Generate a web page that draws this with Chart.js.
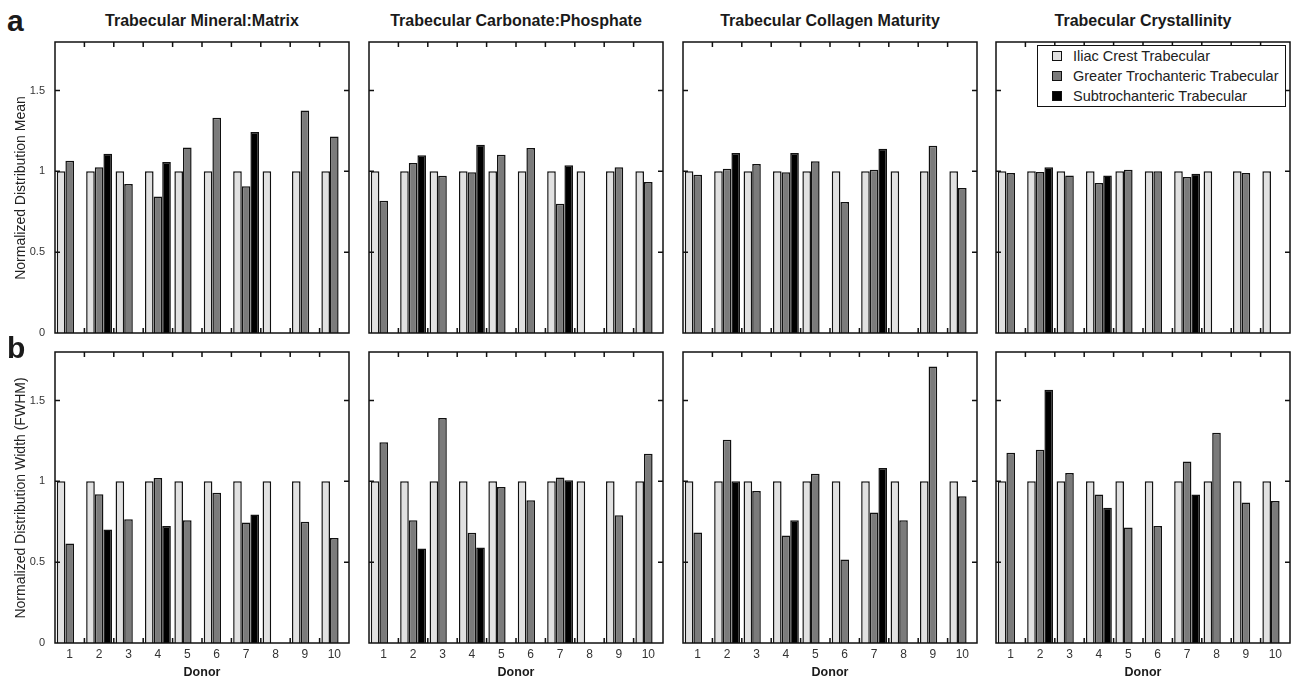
<!DOCTYPE html>
<html>
<head>
<meta charset="utf-8">
<script src="https://cdn.jsdelivr.net/npm/chart.js@4.4.0/dist/chart.umd.min.js"></script>
<style>
    html, body { margin: 0; padding: 0; background: #fff; }
    body {
        width: 1292px; height: 680px; position: relative; overflow: hidden;
        font-family: 'Liberation Sans', Arial, Helvetica, sans-serif; color: #1a1a1a;
    }
    canvas { position: absolute; }
    .title { position: absolute; text-align: center; font-weight: bold; font-size: 16px; line-height: 18px; }
    .letter { position: absolute; font-weight: bold; font-size: 30px; line-height: 30px; }
    .ylabel {
        position: absolute; width: 320px; height: 16px; line-height: 16px;
        text-align: center; font-size: 14px; color: #222; transform: rotate(-90deg);
    }
    .xlabel { position: absolute; width: 100px; text-align: center; font-weight: bold; font-size: 12.5px; line-height: 14px; }
    .legend {
        position: absolute; left: 1037px; top: 45px; width: 247px; height: 60px;
        border: 1.5px solid #111; background: #fff;
    }
    .legend-row { position: absolute; left: 0; height: 20px; line-height: 20px; font-size: 14.5px; color: #222; white-space: nowrap; }
    .legend-row span.sw {
        position: absolute; left: 14px; top: 5px; width: 8px; height: 8px; border: 1.5px solid #111;
    }
    .legend-row span.txt { position: absolute; left: 35px; }
</style>
</head>
<body>
<script>
// Donors and series
const donors = ['1', '2', '3', '4', '5', '6', '7', '8', '9', '10'];
const seriesNames = ['Iliac Crest Trabecular', 'Greater Trochanteric Trabecular', 'Subtrochanteric Trabecular'];
const panelTitles = ['Trabecular Mineral:Matrix', 'Trabecular Carbonate:Phosphate', 'Trabecular Collagen Maturity', 'Trabecular Crystallinity'];
const rowLetters = ['a', 'b'];
const rowAxisTitles = ['Normalized Distribution Mean', 'Normalized Distribution Width (FWHM)'];
const xAxisTitle = 'Donor';
const yTickValues = [0, 0.5, 1, 1.5];
const yMax = 1.8;

// Iliac crest is the reference (normalized to 1)
const iliacCrest = [1, 1, 1, 1, 1, 1, 1, 1, 1, 1];

// Row a: normalized distribution mean
const meanMineralGreater   = [1.066, 1.025, 0.922, 0.845, 1.148, 1.332, 0.907, null, 1.377, 1.216];
const meanMineralSub       = [null, 1.109, null, 1.058, null, null, 1.243, null, null, null];
const meanCarbonateGreater = [0.818, 1.052, 0.973, 0.994, 1.103, 1.144, 0.800, null, 1.025, 0.934];
const meanCarbonateSub     = [null, 1.099, null, 1.165, null, null, 1.037, null, null, null];
const meanCollagenGreater  = [0.979, 1.016, 1.045, 0.994, 1.062, 0.810, 1.010, null, 1.159, 0.897];
const meanCollagenSub      = [null, 1.113, null, 1.113, null, null, 1.140, null, null, null];
const meanCrystalGreater   = [0.990, 0.996, 0.975, 0.928, 1.010, 1.000, 0.965, null, 0.990, null];
const meanCrystalSub       = [null, 1.025, null, 0.975, null, null, 0.985, null, null, null];

// Row b: normalized distribution width (FWHM)
const widthMineralGreater   = [0.616, 0.920, 0.766, 1.020, 0.760, 0.930, 0.745, null, 0.750, 0.649];
const widthMineralSub       = [null, 0.702, null, 0.723, null, null, 0.795, null, null, null];
const widthCarbonateGreater = [1.242, 0.760, 1.392, 0.682, 0.965, 0.883, 1.023, null, 0.790, 1.170];
const widthCarbonateSub     = [null, 0.585, null, 0.591, null, null, 1.006, null, null, null];
const widthCollagenGreater  = [0.684, 1.257, 0.940, 0.665, 1.047, 0.517, 0.807, 0.760, 1.710, 0.908];
const widthCollagenSub      = [null, 1.000, null, 0.760, null, null, 1.082, null, null, null];
const widthCrystalGreater   = [1.177, 1.195, 1.051, 0.918, 0.715, 0.723, 1.123, 1.300, 0.869, 0.879];
const widthCrystalSub       = [null, 1.567, null, 0.836, null, null, 0.918, null, null, null];

const panelSeries = [
    [
        [iliacCrest, meanMineralGreater, meanMineralSub],
        [iliacCrest, meanCarbonateGreater, meanCarbonateSub],
        [iliacCrest, meanCollagenGreater, meanCollagenSub],
        [iliacCrest, meanCrystalGreater, meanCrystalSub]
    ],
    [
        [iliacCrest, widthMineralGreater, widthMineralSub],
        [iliacCrest, widthCarbonateGreater, widthCarbonateSub],
        [iliacCrest, widthCollagenGreater, widthCollagenSub],
        [iliacCrest, widthCrystalGreater, widthCrystalSub]
    ]
];

// Styles and layout
const barFills = ['#e1e1e1', '#7b7b7b', '#000000'];
const plotLefts = [55, 369, 683, 996];
const plotTops = [42, 352];
const plotW = 294;
const plotH = 291;
const yAxisW = 50;
const pad = 4;

Chart.defaults.font.family = "'Liberation Sans', Arial, Helvetica, sans-serif";
Chart.defaults.color = '#333';

// Frame plus inward tick marks, like the original figure
const frameTicks = {
    id: 'frameTicks',
    afterDatasetsDraw(chart) {
        const { ctx, chartArea: a, scales: { x, y } } = chart;
        ctx.save();
        ctx.strokeStyle = '#111';
        ctx.lineWidth = 1.5;
        ctx.strokeRect(a.left, a.top, a.right - a.left, a.bottom - a.top);
        ctx.beginPath();
        y.ticks.forEach(t => {
            if (t.value <= 0) return;
            const py = y.getPixelForValue(t.value);
            ctx.moveTo(a.left, py); ctx.lineTo(a.left + 5, py);
            ctx.moveTo(a.right, py); ctx.lineTo(a.right - 5, py);
        });
        for (let i = 0; i < donors.length - 1; i++) {
            const px = (x.getPixelForValue(i) + x.getPixelForValue(i + 1)) / 2;
            ctx.moveTo(px, a.top); ctx.lineTo(px, a.top + 5);
            ctx.moveTo(px, a.bottom); ctx.lineTo(px, a.bottom - 5);
        }
        ctx.stroke();
        ctx.restore();
    }
};

function noScalePadding(s) {
    s.paddingTop = 0;
    s.paddingBottom = 0;
    s.paddingLeft = 0;
    s.paddingRight = 0;
}

function addText(cls, text, style) {
    const el = document.createElement('div');
    el.className = cls;
    el.textContent = text;
    Object.assign(el.style, style);
    document.body.appendChild(el);
    return el;
}

function createPanel(row, col) {
    const canvas = document.createElement('canvas');
    const w = yAxisW + plotW + pad;
    const h = pad + plotH + (row === 1 ? 24 : pad);
    canvas.width = w;
    canvas.height = h;
    canvas.style.left = (plotLefts[col] - yAxisW) + 'px';
    canvas.style.top = (plotTops[row] - pad) + 'px';
    document.body.appendChild(canvas);

    new Chart(canvas, {
        type: 'bar',
        data: {
            labels: donors,
            datasets: panelSeries[row][col].map((values, i) => ({
                label: seriesNames[i],
                data: values,
                backgroundColor: barFills[i],
                borderColor: '#111',
                borderWidth: 1.5,
                categoryPercentage: 0.88,
                barPercentage: 1.0
            }))
        },
        options: {
            responsive: false,
            animation: false,
            layout: { padding: { top: pad, right: pad, left: 0, bottom: row === 1 ? 0 : pad } },
            scales: {
                x: {
                    grid: { display: false, drawTicks: false },
                    border: { display: false },
                    ticks: { display: row === 1, font: { size: 12 }, color: '#333', padding: 4, maxRotation: 0, autoSkip: false },
                    afterFit: s => { s.height = row === 1 ? 24 : 0; noScalePadding(s); }
                },
                y: {
                    min: 0,
                    max: yMax,
                    grid: { display: false, drawTicks: false },
                    border: { display: false },
                    afterBuildTicks: s => { s.ticks = yTickValues.map(v => ({ value: v })); },
                    ticks: { display: col === 0, font: { size: 11 }, color: '#333', padding: 10, callback: v => String(v) },
                    afterFit: s => { s.width = yAxisW; noScalePadding(s); }
                }
            },
            plugins: {
                legend: { display: false },
                tooltip: { enabled: false }
            }
        },
        plugins: [frameTicks]
    });
}

for (let row = 0; row < 2; row++) {
    for (let col = 0; col < 4; col++) {
        createPanel(row, col);
    }
}

// Titles, axis labels and row letters
panelTitles.forEach((t, col) => {
    addText('title', t, { left: (plotLefts[col] - 20) + 'px', width: (plotW + 40) + 'px', top: '12px' });
});
rowLetters.forEach((t, row) => {
    addText('letter', t, { left: '7px', top: (row === 0 ? 6 : 333) + 'px' });
});
rowAxisTitles.forEach((t, row) => {
    const cy = plotTops[row] + plotH / 2;
    addText('ylabel', t, { left: (20 - 160) + 'px', top: (cy - 8) + 'px' });
});
plotLefts.forEach(left => {
    addText('xlabel', xAxisTitle, { left: (left + plotW / 2 - 50) + 'px', top: '665px' });
});

// Legend inside the last top panel
const legend = document.createElement('div');
legend.className = 'legend';
seriesNames.forEach((name, i) => {
    const r = document.createElement('div');
    r.className = 'legend-row';
    r.style.top = (i * 20) + 'px';
    const sw = document.createElement('span');
    sw.className = 'sw';
    sw.style.background = barFills[i];
    const tx = document.createElement('span');
    tx.className = 'txt';
    tx.textContent = name;
    r.appendChild(sw);
    r.appendChild(tx);
    legend.appendChild(r);
});
document.body.appendChild(legend);
</script>
</body>
</html>
